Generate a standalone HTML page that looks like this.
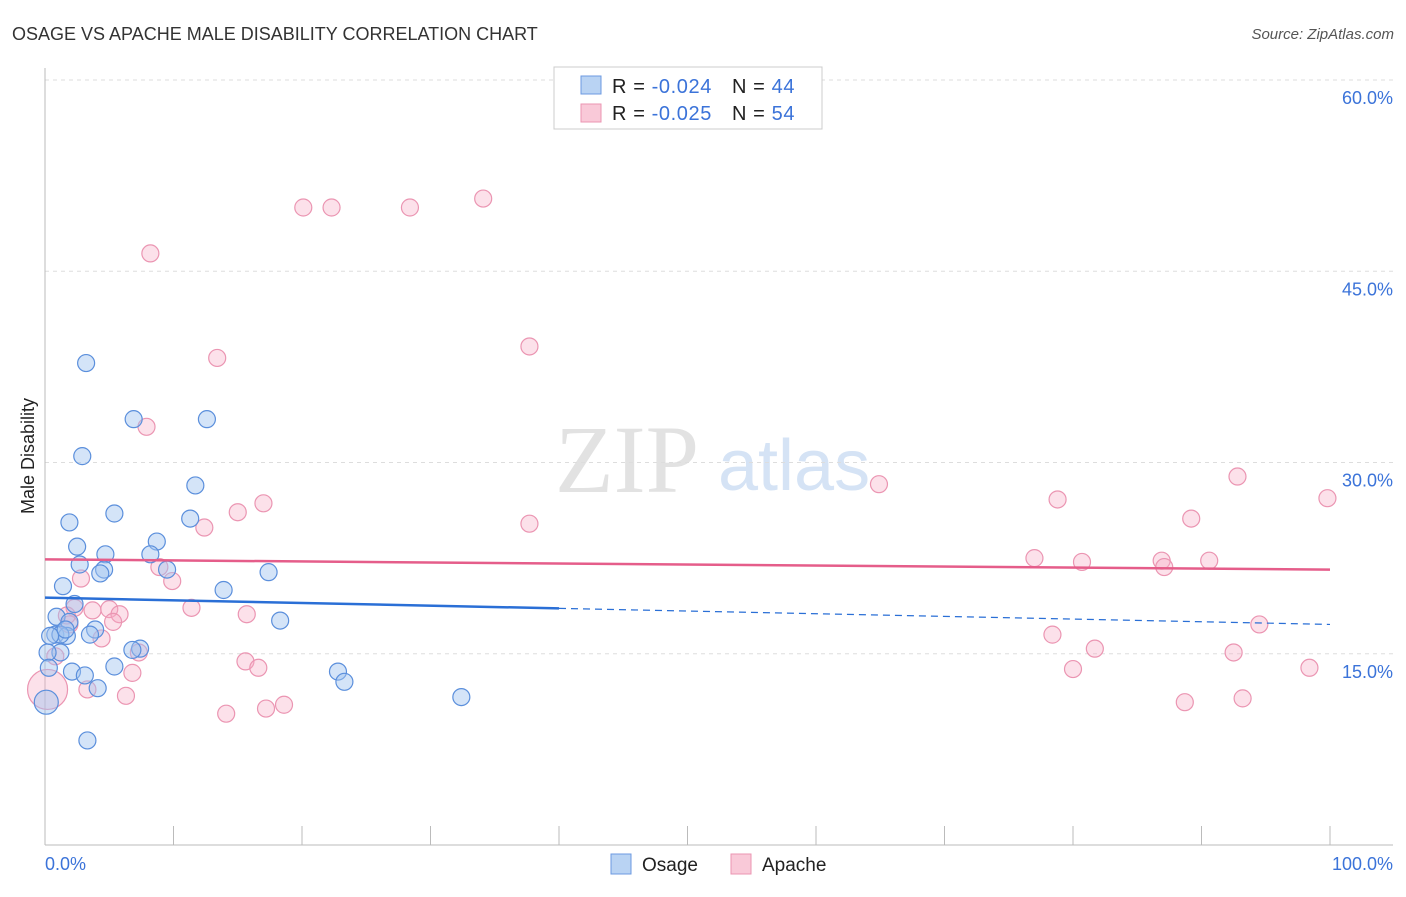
<!DOCTYPE html>
<html><head><meta charset="utf-8"><style>
body{margin:0;background:#fff;width:1406px;height:892px;overflow:hidden;font-family:"Liberation Sans",sans-serif}
</style></head><body>
<svg id="chart" width="1406" height="892" xmlns="http://www.w3.org/2000/svg">
<text x="12" y="40" font-size="18" fill="#333">OSAGE VS APACHE MALE DISABILITY CORRELATION CHART</text>
<text x="1394" y="39" font-size="15" fill="#555" font-style="italic" text-anchor="end">Source: ZipAtlas.com</text>
<g>
<text x="555" y="492" font-family="Liberation Serif,serif" font-size="96" fill="#e2e2e2">ZIP</text>
<text x="718" y="490" font-size="72" fill="#d5e3f5">atlas</text>
</g>
<g id="grid"></g>
<line x1="45" y1="68" x2="45" y2="845" stroke="#bbb"/>
<line x1="45" y1="845" x2="1393" y2="845" stroke="#bbb"/>
<g id="xticks"></g>
<text x="45" y="870" font-size="18" fill="#3b73d9">0.0%</text>
<text x="1393" y="870" font-size="18" fill="#3b73d9" text-anchor="end">100.0%</text>
<text transform="translate(34,456) rotate(-90)" font-size="18" fill="#222" text-anchor="middle">Male Disability</text>
<g id="marks"></g>
<g>
<rect x="554" y="67" width="268" height="62" fill="#fff" stroke="#ccc"/>
<rect x="581" y="76" width="20" height="18" fill="#b9d3f3" stroke="#6c9ae0"/>
<rect x="581" y="104" width="20" height="18" fill="#f9c9d8" stroke="#eb95b2"/>
<text x="612" y="93" font-size="20" fill="#222" letter-spacing="0.6">R = <tspan fill="#3b73d9">-0.024</tspan><tspan dx="20">N = </tspan><tspan fill="#3b73d9">44</tspan></text>
<text x="612" y="120" font-size="20" fill="#222" letter-spacing="0.6">R = <tspan fill="#3b73d9">-0.025</tspan><tspan dx="20">N = </tspan><tspan fill="#3b73d9">54</tspan></text>
</g>
<g>
<rect x="611" y="854" width="20" height="20" fill="#b9d3f3" stroke="#6c9ae0"/>
<text x="642" y="871" font-size="19" fill="#222">Osage</text>
<rect x="731" y="854" width="20" height="20" fill="#f9c9d8" stroke="#eb95b2"/>
<text x="762" y="871" font-size="19" fill="#222">Apache</text>
</g>
</svg>
<script>
const yTicks=[15,30,45,60];
const yTickLabels=["15.0%","30.0%","45.0%","60.0%"];
const xTicks=[0,10,20,30,40,50,60,70,80,90,100];
const osageX=[3.2,6.9,12.6,2.9,11.7,5.4,1.9,11.3,8.7,2.5,4.7,8.2,2.7,4.6,4.3,9.5,17.4,1.4,13.9,2.3,0.9,1.9,18.3,3.9,0.8,1.7,1.2,3.5,7.4,6.8,1.2,0.2,0.3,5.4,2.1,3.1,22.8,23.3,4.1,32.4,0.1,3.3,0.4,1.6];
const osageY=[37.8,33.4,33.4,30.5,28.2,26.0,25.3,25.6,23.8,23.4,22.8,22.8,22.0,21.6,21.3,21.6,21.4,20.3,20.0,18.9,17.9,17.5,17.6,16.9,16.5,16.4,16.5,16.5,15.4,15.3,15.1,15.1,13.9,14.0,13.6,13.3,13.6,12.8,12.3,11.6,11.2,8.2,16.4,16.9];
const apacheX=[20.1,22.3,28.4,34.1,8.2,37.7,13.4,7.9,64.9,17.0,15.0,12.4,37.7,78.8,92.8,99.8,89.2,77.0,80.7,86.9,90.6,87.1,8.9,9.9,2.8,2.3,5.0,5.8,3.7,11.4,15.7,5.3,4.4,1.9,7.3,94.5,78.4,81.7,92.5,15.6,16.6,6.8,0.8,80.0,98.4,3.3,6.3,0.2,88.7,93.2,14.1,17.2,18.6,1.7];
const apacheY=[50.0,50.0,50.0,50.7,46.4,39.1,38.2,32.8,28.3,26.8,26.1,24.9,25.2,27.1,28.9,27.2,25.6,22.5,22.2,22.3,22.3,21.8,21.8,20.7,20.9,18.6,18.5,18.1,18.4,18.6,18.1,17.5,16.2,17.3,15.1,17.3,16.5,15.4,15.1,14.4,13.9,13.5,14.8,13.8,13.9,12.2,11.7,12.2,11.2,11.5,10.3,10.7,11.0,18.0];
const osageTrend=[19.4,17.3];
const apacheTrend=[22.4,21.6];
const osageSolidEnd=40;
const NS="http://www.w3.org/2000/svg";
const X=v=>45+v*12.85, Y=v=>845-v*12.75;
function mk(tag,attrs,parent){const e=document.createElementNS(NS,tag);for(const k in attrs)e.setAttribute(k,attrs[k]);document.getElementById(parent).appendChild(e);return e;}
yTicks.forEach((t,i)=>{
 const l=mk('line',{x1:45,x2:1393,y1:Y(t),y2:Y(t),stroke:'#ddd','stroke-dasharray':'4,4'},'grid');
 
 
 const tx=mk('text',{x:1393,y:Y(t)+24,'font-size':18,fill:'#3b73d9','text-anchor':'end'},'grid');
 tx.textContent=yTickLabels[i];
 
 
});
xTicks.forEach(t=>{
 const l=mk('line',{x1:X(t),x2:X(t),y1:826,y2:845,stroke:'#bbb'},'xticks');
 
 
});
function dots(xs,ys,fill,stroke,name){
 xs.forEach((x,i)=>{
  let r=8.5;
  if(x<0.3&&ys[i]>12&&ys[i]<12.5) r=20;
  if(x<0.15&&ys[i]<11.5) r=12;
  const c=mk('circle',{cx:X(x),cy:Y(ys[i]),r:r,fill:fill,stroke:stroke,'stroke-width':1.2},'marks');
  
  
 });
}
dots(apacheX,apacheY,'rgba(246,170,196,0.35)','#eb95b2','apache-point');
dots(osageX,osageY,'rgba(160,195,240,0.45)','#5b8fdc','osage-point');
const sl=(a,b,t)=>a+(b-a)*t/100;
let e=mk('line',{x1:X(0),y1:Y(osageTrend[0]),x2:X(osageSolidEnd),y2:Y(sl(osageTrend[0],osageTrend[1],osageSolidEnd)),stroke:'#2a6fd6','stroke-width':2.5},'marks');


e=mk('line',{x1:X(osageSolidEnd),y1:Y(sl(osageTrend[0],osageTrend[1],osageSolidEnd)),x2:X(100),y2:Y(osageTrend[1]),stroke:'#2a6fd6','stroke-width':1.2,'stroke-dasharray':'7,5'},'marks');


e=mk('line',{x1:X(0),y1:Y(apacheTrend[0]),x2:X(100),y2:Y(apacheTrend[1]),stroke:'#e55d8a','stroke-width':2.5},'marks');


</script>
</body></html>
